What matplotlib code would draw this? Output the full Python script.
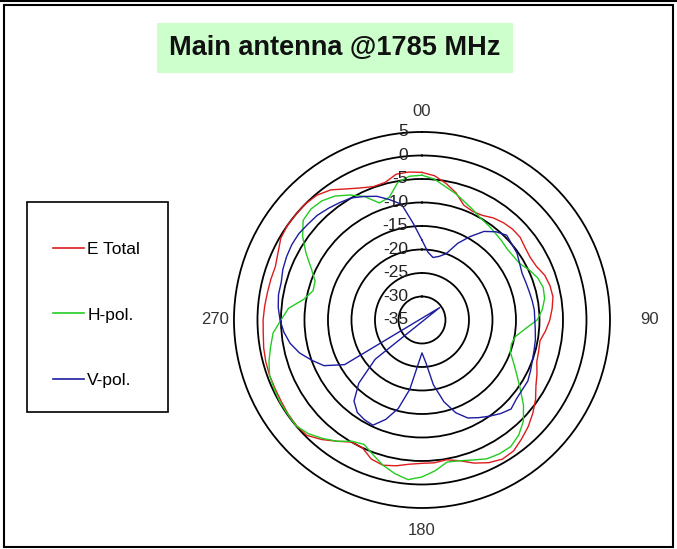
import numpy as np
import matplotlib.pyplot as plt
from matplotlib.patches import Rectangle
from matplotlib.lines import Line2D

plt.rcParams['font.family'] = ['Liberation Sans', 'DejaVu Sans']

# radar chart, 5 deg steps, values in dB
angles = np.arange(0, 360, 5)
e_total = [-3.6, -4.2, -5.5, -7.0, -9.0, -9.5, -9.3, -8.5, -8.0, -7.7, -7.7, -8.2,
           -8.4, -8.1, -7.2, -6.8, -6.7, -7.2, -7.8, -8.6, -9.5, -9.3, -9.0, -8.0,
           -7.0, -5.5, -4.2, -3.0, -2.0, -1.0, -0.8, -1.5, -2.6, -4.0, -4.8, -4.5,
           -4.5, -4.2, -3.5, -3.0, -3.5, -5.0, -5.0, -3.5, -1.8, -0.3, -0.1, -0.2,
           -0.4, -0.5, -0.5, -0.6, -0.8, -1.1, -1.2, -1.4, -1.6, -1.7, -1.8, -1.2,
           -0.3, 0.0, 0.0, 0.0, -0.3, -1.2, -2.8, -4.0, -4.8, -4.7, -3.5, -3.4]
h_pol = [-4.2, -4.9, -6.2, -7.2, -8.3, -9.2, -10.0, -10.4, -10.8, -11.1, -11.4, -11.3,
         -11.0, -9.8, -8.8, -8.3, -8.5, -9.3, -10.5, -13.0, -14.8, -15.3, -15.0, -13.5,
         -11.7, -9.5, -6.8, -4.5, -3.0, -2.1, -2.1, -2.4, -3.3, -4.0, -4.3, -2.8,
         -1.6, -0.9, -1.8, -3.0, -4.5, -5.8, -5.2, -3.5, -2.1, -0.8, 0.0, -0.1,
         -0.1, -0.3, -0.5, -1.3, -2.3, -3.2, -5.0, -6.5, -9.5, -11.0, -10.8, -9.0,
         -6.5, -4.0, -2.0, -1.6, -1.9, -2.8, -4.3, -6.0, -8.5, -8.0, -5.3, -4.3]
v_pol = [-18.0, -20.5, -21.5, -21.0, -20.0, -17.0, -14.5, -12.0, -10.5, -9.5, -10.0, -10.3,
         -11.0, -11.5, -11.5, -11.4, -11.2, -11.0, -11.0, -10.8, -10.5, -10.3, -10.0, -9.5,
         -9.0, -9.0, -8.8, -8.2, -9.0, -10.0, -11.0, -12.0, -14.0, -17.0, -21.0, -26.0,
         -28.0, -25.5, -20.0, -15.5, -12.5, -10.3, -10.5, -11.0, -12.5, -16.0, -22.0, -39.6,
         -16.0, -12.0, -10.0, -8.0, -6.5, -5.5, -4.8, -4.3, -4.0, -4.0, -3.5, -3.2,
         -3.0, -3.0, -3.3, -3.5, -4.0, -4.5, -5.0, -6.0, -7.0, -8.5, -10.0, -14.5]

series_names = ['E Total', 'H-pol.', 'V-pol.']
series_colors = ['#dd1c1c', '#22cc22', '#1c1ca0']

r_min, r_max = -35, 5
ring_vals = [-30, -25, -20, -15, -10, -5, 0]
rlabel_vals = [5, 0, -5, -10, -15, -20, -25, -30, -35]
cat_labels = {0: '00', 90: '90', 180: '180', 270: '270'}


def radar_points(deg, vals):
    # excel style: a value below the axis minimum ends up on the opposite side
    deg = np.asarray(deg, float)
    vals = np.asarray(vals, float)
    below = vals < r_min
    deg = np.where(below, deg + 180, deg)
    vals = np.where(below, 2 * r_min - vals, vals)
    return np.deg2rad(np.append(deg, deg[0])), np.append(vals, vals[0])


fig = plt.figure(figsize=(6.77, 5.49), dpi=100)

# outer chart frame
fig.patches.append(Rectangle((4 / 677, 2 / 549), 669 / 677, 542 / 549, transform=fig.transFigure,
                             fill=False, edgecolor='black', lw=1.5))
fig.add_artist(Line2D([0, 1], [1 - 0.8 / 549, 1 - 0.8 / 549], color='black', lw=1.5))

ax = fig.add_axes([0.3456, 0.0747, 0.5554, 0.6849], projection='polar')
ax.set_theta_zero_location('N')
ax.set_theta_direction(-1)
ax.set_ylim(r_min, r_max)
ax.set_yticks(ring_vals)
ax.set_yticklabels([])
ax.set_xticks([])
ax.yaxis.grid(True, color='black', lw=1.3, ls='-')
ax.spines['polar'].set_color('black')
ax.spines['polar'].set_linewidth(1.3)

for vals, c in zip([e_total, h_pol, v_pol], series_colors):
    th, r = radar_points(angles, vals)
    ax.plot(th, r, color=c, lw=1.0)

for v in rlabel_vals:
    ax.annotate(str(v), xy=(0, v), xytext=(-14, 0), textcoords='offset pixels',
                ha='right', va='center', fontsize=12.5, color='#222222', annotation_clip=False)

cat_r = {0: 9.3, 90: 13.5, 180: 9.7, 270: 9.0}
for a, lab in cat_labels.items():
    ax.text(np.deg2rad(a), cat_r[a], lab, ha='center', va='center', fontsize=12,
            color='#333333', clip_on=False)

# title
fig.text(335 / 677, 1 - 48 / 549, 'Main antenna @1785 MHz', ha='center', va='center',
         fontsize=19.5, fontweight='bold', color='#111111',
         bbox=dict(facecolor='#ccffcc', edgecolor='none', boxstyle='square,pad=0.45'))

# legend
fig.patches.append(Rectangle((27 / 677, 1 - 412 / 549), 141 / 677, 210 / 549, transform=fig.transFigure,
                             fill=False, edgecolor='black', lw=1.2))
handles = [Line2D([], [], color=c, lw=1.2) for c in series_colors]
fig.legend(handles, series_names, loc='center left', bbox_to_anchor=(44 / 677, 1 - 315 / 549),
           frameon=False, borderpad=0, fontsize=12.5, labelspacing=2.9, handlelength=1.8,
           handletextpad=0.2)

fig.savefig('out.png', dpi=100)
